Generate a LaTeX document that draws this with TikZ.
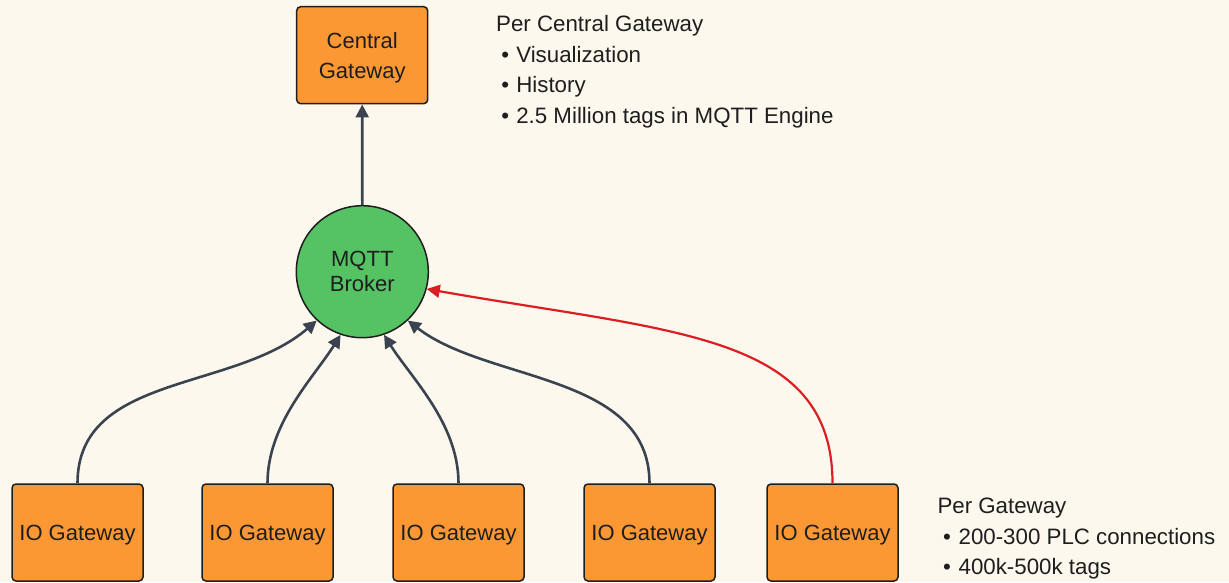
\documentclass[tikz,border=0pt]{standalone}
\usepackage{fontspec}
\setmainfont{Liberation Sans}
\usetikzlibrary{arrows.meta}

\definecolor{paper}{HTML}{FCF8EE}
\definecolor{boxfill}{HTML}{FB9833}
\definecolor{brokerfill}{HTML}{55C263}
\definecolor{edgegray}{HTML}{3C4350}
\definecolor{hotred}{HTML}{DC1E23}
\definecolor{ink}{HTML}{1E1E1E}

\begin{document}
\begin{tikzpicture}[x=1pt,y=1pt,
  gatebox/.style={rectangle, rounded corners=4pt, draw=ink, line width=1.5pt,
    fill=boxfill, minimum width=131pt, minimum height=97pt, inner sep=0pt,
    align=center, text=ink, font=\fontsize{22}{30}\selectfont, text depth=0pt},
  brokernode/.style={circle, draw=ink, line width=1.5pt, fill=brokerfill,
    minimum size=132pt, inner sep=0pt, align=center, text=ink,
    font=\fontsize{22}{25}\selectfont},
  feed/.style={draw=edgegray, line width=2.6pt, -{Triangle[length=13pt,width=13pt]}},
  hotfeed/.style={draw=hotred, line width=2.2pt, -{Triangle[length=13pt,width=13pt]}},
  note/.style={anchor=base west, inner sep=0pt, text=ink, font=\fontsize{22.3}{26}\selectfont},
]
% canvas
\useasboundingbox (0,0) rectangle (1229,582);
\fill[paper] (0,0) rectangle (1229,582);

% nodes
\node[gatebox] (central) at (362.2,526.8) {Central\\Gateway};
\node[brokernode] (broker) at (362.3,310.3) {MQTT\\Broker};
\node[gatebox] (io1) at (77.5,49.5) {IO Gateway};
\node[gatebox] (io2) at (267.5,49.5) {IO Gateway};
\node[gatebox] (io3) at (458.5,49.5) {IO Gateway};
\node[gatebox] (io4) at (649.5,49.5) {IO Gateway};
\node[gatebox] (io5) at (832.5,49.5) {IO Gateway};

% connectors
\draw[feed] (broker.north) -- (central.south);
\draw[feed] (io1.north) .. controls +(0,110) and +(-82.5,-71.3) .. (broker.227);
\draw[feed] (io2.north) .. controls +(0,60) and +(-26.5,-42.4) .. (broker.251);
\draw[feed] (io3.north) .. controls +(0,60) and +(26.5,-42.4) .. (broker.289);
\draw[feed] (io4.north) .. controls +(0,110) and +(80,-62) .. (broker.313);
\draw[hotfeed] (io5.north) .. controls +(0,150) and +(246,-43.4) .. (broker.345);

% annotations
\node[note] (cghead) at (496,550.3) {Per Central Gateway};
\node[note] (cgvis) at (501.2,519.7) {\textbullet\hspace{7.1pt}Visualization};
\node[note] (cghist) at (501.2,489.3) {\textbullet\hspace{7.1pt}History};
\node[note] (cgtags) at (501.2,458.7) {\textbullet\hspace{7.1pt}2.5 Million tags in MQTT Engine};
\node[note] (gwhead) at (937.3,68.7) {Per Gateway};
\node[note] (gwplc) at (942.9,38) {\textbullet\hspace{7.7pt}200-300 PLC connections};
\node[note] (gwtags) at (942.9,7.7) {\textbullet\hspace{7.7pt}400k-500k tags};
\end{tikzpicture}
\end{document}
